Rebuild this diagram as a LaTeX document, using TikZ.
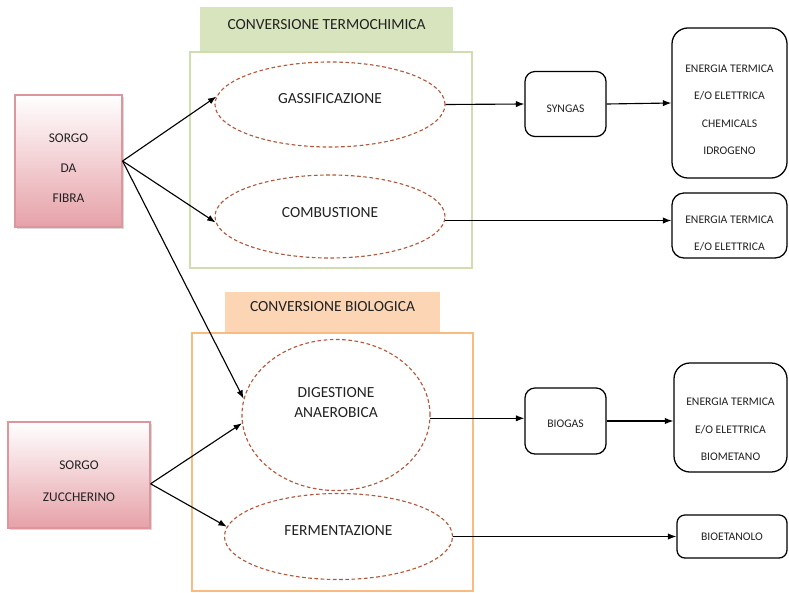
\documentclass[tikz,border=0pt]{standalone}
\usepackage{fontspec}
\setmainfont{Carlito}
\usepackage{tikz}
\usetikzlibrary{positioning, shapes.geometric, arrows.meta, shadows}
\definecolor{termoGreen}{HTML}{D7E4BD}
\definecolor{termoLine}{HTML}{CFDDB0}
\definecolor{bioOrange}{HTML}{FCD5B5}
\definecolor{bioLine}{HTML}{F8BC80}
\definecolor{sorgoPink}{HTML}{E6A1A8}
\definecolor{sorgoLine}{HTML}{DC969C}
\definecolor{ellRed}{HTML}{B4573A}
\definecolor{textGrey}{HTML}{222222}
% strut that pushes a node text down
\newcommand{\lowr}[1]{\rule{0pt}{#1}}

\begin{document}
\begin{tikzpicture}[x=0.025cm, y=-0.025cm, every node/.style={align=center, text=textGrey},
  sorgoBox/.style={draw=sorgoLine, thick, top color=white, bottom color=sorgoPink,
    drop shadow={shadow xshift=1.5pt, shadow yshift=-1.5pt, opacity=0.3}},
  frameBox/.style={draw, line width=1pt},
  headBox/.style={font=\fontsize{11}{13}\selectfont, text depth=7.5pt},
  procEll/.style={ellipse, draw=ellRed, line width=0.8pt, dash pattern=on 2.6pt off 1.8pt,
    fill=white, inner sep=0pt, font=\fontsize{11}{14}\selectfont, text depth=8pt},
  outBox/.style={draw=black, line width=0.9pt, fill=white, font=\fontsize{8.3}{19.5}\selectfont},
  flowArrow/.style={-{Latex[length=6pt,width=4.5pt]}, line width=0.8pt, black}]
  \useasboundingbox (0,0) rectangle (789,592);
  % containers and headers
  \node[frameBox, draw=termoLine, minimum width=7.05cm, minimum height=5.4cm] (termoBox) at (331,160) {};
  \node[headBox, fill=termoGreen, minimum width=6.325cm, minimum height=1.1cm, above=0pt of termoBox, xshift=-0.11cm, text depth=6pt] (termoHead) {CONVERSIONE TERMOCHIMICA};
  \node[frameBox, draw=bioLine, minimum width=7.025cm, minimum height=6.45cm] (bioBox) at (332.5,462) {};
  \node[headBox, fill=bioOrange, minimum width=5.35cm, minimum height=1.0cm, above=0pt of bioBox, text depth=8.5pt] (bioHead) {CONVERSIONE BIOLOGICA};
  % sorgo
  \node[sorgoBox, minimum width=2.675cm, minimum height=3.3cm, font=\fontsize{9.5}{21.5}\selectfont] (fibra) at (68.5,161) {\lowr{16pt}SORGO\\DA\\FIBRA};
  \node[sorgoBox, minimum width=3.55cm, minimum height=2.65cm, font=\fontsize{9.5}{22.5}\selectfont] (zucch) at (79,475) {\lowr{15pt}SORGO\\ZUCCHERINO};
  % processes
  \node[procEll, minimum width=5.75cm, minimum height=2.125cm] (gass) at (330,104.5) {GASSIFICAZIONE};
  \node[procEll, minimum width=5.75cm, minimum height=2.075cm, text depth=6pt] (comb) at (330,216.5) {COMBUSTIONE};
  \node[procEll, minimum width=4.7cm, minimum height=3.775cm] (dig) at (336,415) {};
  \node[font=\fontsize{11}{14.2}\selectfont] (digText) at ([yshift=0.3cm]dig.center) {DIGESTIONE\\ANAEROBICA};
  \node[procEll, minimum width=5.7cm, minimum height=2.15cm] (ferm) at (338.5,536.5) {FERMENTAZIONE};
  % gases and products
  \node[outBox, rounded corners=0.25cm, minimum width=2.025cm, minimum height=1.625cm] (syngas) at (565.5,104) {\lowr{12pt}SYNGAS};
  \node[outBox, rounded corners=0.25cm, minimum width=2.025cm, minimum height=1.65cm] (biogas) at (565.5,421) {\lowr{9.5pt}BIOGAS};
  \node[outBox, rounded corners=0.4cm, minimum width=2.875cm, minimum height=3.75cm] (out1) at (729.5,103) {\lowr{15pt}ENERGIA TERMICA\\E/O ELETTRICA\\CHEMICALS\\IDROGENO};
  \node[outBox, rounded corners=0.3cm, minimum width=2.875cm, minimum height=1.625cm] (out2) at (729.5,225.5) {\lowr{16.5pt}ENERGIA TERMICA\\E/O ELETTRICA};
  \node[outBox, rounded corners=0.4cm, minimum width=2.825cm, minimum height=2.725cm] (out3) at (730.5,417.5) {\lowr{22.5pt}ENERGIA TERMICA\\E/O ELETTRICA\\BIOMETANO};
  \node[outBox, rounded corners=0.2cm, minimum width=2.75cm, minimum height=1.075cm] (bioet) at (732,536.5) {BIOETANOLO};
  % connectors
  \draw[flowArrow] (fibra.east) -- (gass.176);
  \draw[flowArrow] (fibra.east) -- (comb.183);
  \draw[flowArrow] (fibra.east) -- (dig.170);
  \draw[flowArrow] ([yshift=-0.22cm]zucch.east) -- (dig.185);
  \draw[flowArrow] ([yshift=-0.22cm]zucch.east) -- (ferm.175);
  \draw[flowArrow] (gass.east) -- (syngas.west);
  \draw[flowArrow] (syngas.east) -- (out1.west);
  \draw[flowArrow] (comb.-2) -- (comb.-2 -| out2.west);
  \draw[flowArrow] (dig.-2) -- (dig.-2 -| biogas.west);
  \draw[flowArrow] (biogas.east) -- (biogas.east -| out3.west);
  \draw[flowArrow] (ferm.east) -- (ferm.east -| bioet.west);
\end{tikzpicture}
\end{document}
